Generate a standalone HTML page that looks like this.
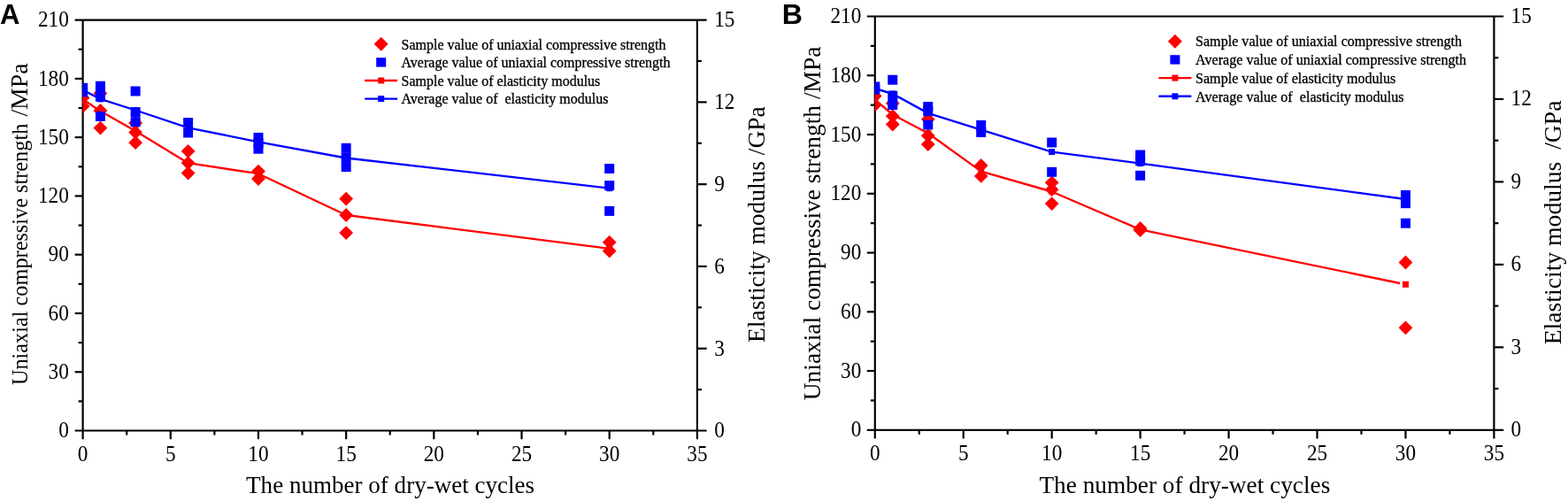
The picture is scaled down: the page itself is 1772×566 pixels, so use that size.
<!DOCTYPE html>
<html><head><meta charset="utf-8"><title>Figure</title>
<style>html,body{margin:0;padding:0;background:#fff;width:1772px;height:566px;overflow:hidden}svg{display:block}</style>
</head><body>
<svg width="1772" height="566" viewBox="0 0 1772 566">
<rect width="100%" height="100%" fill="#fff"/>
<clipPath id="cA"><rect x="93.60" y="14.60" width="694.30" height="471.90"/></clipPath>
<g stroke="#000" stroke-width="2.2" fill="none" stroke-linecap="butt">
<line x1="84.60" y1="22.60" x2="798.70" y2="22.60"/>
<line x1="84.60" y1="486.50" x2="798.70" y2="486.50"/>
<line x1="93.60" y1="22.60" x2="93.60" y2="496.20"/>
<line x1="787.90" y1="22.60" x2="787.90" y2="496.20"/>
</g>
<g stroke="#000" stroke-width="2.2" fill="none">
<line x1="143.19" y1="486.50" x2="143.19" y2="491.50"/>
<line x1="192.79" y1="486.50" x2="192.79" y2="496.20"/>
<line x1="242.38" y1="486.50" x2="242.38" y2="491.50"/>
<line x1="291.97" y1="486.50" x2="291.97" y2="496.20"/>
<line x1="341.56" y1="486.50" x2="341.56" y2="491.50"/>
<line x1="391.16" y1="486.50" x2="391.16" y2="496.20"/>
<line x1="440.75" y1="486.50" x2="440.75" y2="491.50"/>
<line x1="490.34" y1="486.50" x2="490.34" y2="496.20"/>
<line x1="539.94" y1="486.50" x2="539.94" y2="491.50"/>
<line x1="589.53" y1="486.50" x2="589.53" y2="496.20"/>
<line x1="639.12" y1="486.50" x2="639.12" y2="491.50"/>
<line x1="688.71" y1="486.50" x2="688.71" y2="496.20"/>
<line x1="738.31" y1="486.50" x2="738.31" y2="491.50"/>
<line x1="88.60" y1="453.36" x2="93.60" y2="453.36"/>
<line x1="84.60" y1="420.23" x2="93.60" y2="420.23"/>
<line x1="88.60" y1="387.09" x2="93.60" y2="387.09"/>
<line x1="84.60" y1="353.96" x2="93.60" y2="353.96"/>
<line x1="88.60" y1="320.82" x2="93.60" y2="320.82"/>
<line x1="84.60" y1="287.69" x2="93.60" y2="287.69"/>
<line x1="88.60" y1="254.55" x2="93.60" y2="254.55"/>
<line x1="84.60" y1="221.41" x2="93.60" y2="221.41"/>
<line x1="88.60" y1="188.28" x2="93.60" y2="188.28"/>
<line x1="84.60" y1="155.14" x2="93.60" y2="155.14"/>
<line x1="88.60" y1="122.01" x2="93.60" y2="122.01"/>
<line x1="84.60" y1="88.87" x2="93.60" y2="88.87"/>
<line x1="88.60" y1="55.74" x2="93.60" y2="55.74"/>
<line x1="787.90" y1="440.11" x2="792.90" y2="440.11"/>
<line x1="787.90" y1="393.72" x2="798.70" y2="393.72"/>
<line x1="787.90" y1="347.33" x2="792.90" y2="347.33"/>
<line x1="787.90" y1="300.94" x2="798.70" y2="300.94"/>
<line x1="787.90" y1="254.55" x2="792.90" y2="254.55"/>
<line x1="787.90" y1="208.16" x2="798.70" y2="208.16"/>
<line x1="787.90" y1="161.77" x2="792.90" y2="161.77"/>
<line x1="787.90" y1="115.38" x2="798.70" y2="115.38"/>
<line x1="787.90" y1="68.99" x2="792.90" y2="68.99"/>
</g>
<g font-family="'Liberation Serif','Times New Roman',serif" font-size="25" fill="#000">
<text transform="translate(93.60,521.00) scale(0.93,1)" text-anchor="middle">0</text>
<text transform="translate(192.79,521.00) scale(0.93,1)" text-anchor="middle">5</text>
<text transform="translate(291.97,521.00) scale(0.93,1)" text-anchor="middle">10</text>
<text transform="translate(391.16,521.00) scale(0.93,1)" text-anchor="middle">15</text>
<text transform="translate(490.34,521.00) scale(0.93,1)" text-anchor="middle">20</text>
<text transform="translate(589.53,521.00) scale(0.93,1)" text-anchor="middle">25</text>
<text transform="translate(688.71,521.00) scale(0.93,1)" text-anchor="middle">30</text>
<text transform="translate(787.90,521.00) scale(0.93,1)" text-anchor="middle">35</text>
<text transform="translate(77.80,494.30) scale(0.93,1)" text-anchor="end">0</text>
<text transform="translate(77.80,428.03) scale(0.93,1)" text-anchor="end">30</text>
<text transform="translate(77.80,361.76) scale(0.93,1)" text-anchor="end">60</text>
<text transform="translate(77.80,295.49) scale(0.93,1)" text-anchor="end">90</text>
<text transform="translate(77.80,229.21) scale(0.93,1)" text-anchor="end">120</text>
<text transform="translate(77.80,162.94) scale(0.93,1)" text-anchor="end">150</text>
<text transform="translate(77.80,96.67) scale(0.93,1)" text-anchor="end">180</text>
<text transform="translate(77.80,30.40) scale(0.93,1)" text-anchor="end">210</text>
<text transform="translate(807.20,494.30) scale(0.93,1)">0</text>
<text transform="translate(807.20,401.52) scale(0.93,1)">3</text>
<text transform="translate(807.20,308.74) scale(0.93,1)">6</text>
<text transform="translate(807.20,215.96) scale(0.93,1)">9</text>
<text transform="translate(807.20,123.18) scale(0.93,1)">12</text>
<text transform="translate(807.20,30.40) scale(0.93,1)">15</text>
</g>
<text x="278.10" y="557.30" font-family="'Liberation Serif','Times New Roman',serif" font-size="27" textLength="326" lengthAdjust="spacingAndGlyphs">The number of dry-wet cycles</text>
<text transform="translate(31.40,435.10) rotate(-90)" font-family="'Liberation Serif','Times New Roman',serif" font-size="25" textLength="295.4" lengthAdjust="spacingAndGlyphs">Uniaxial compressive strength</text>
<text transform="translate(31.40,131.60) rotate(-90)" font-family="'Liberation Serif','Times New Roman',serif" font-size="26.5" textLength="60.2" lengthAdjust="spacingAndGlyphs">/MPa</text>
<text transform="translate(864.20,386.90) rotate(-90)" font-family="'Liberation Serif','Times New Roman',serif" font-size="27" textLength="266.5" lengthAdjust="spacingAndGlyphs" style="white-space:pre">Elasticity modulus /GPa</text>
<text x="0" y="27" font-family="'Liberation Sans',Arial,sans-serif" font-weight="bold" font-size="31">A</text>
<g clip-path="url(#cA)">
<polyline points="93.60,112.30 113.44,125.50 153.11,148.00 212.62,184.20 291.97,196.20 391.16,243.00 688.71,280.80" fill="none" stroke="#ff0000" stroke-width="2.35" stroke-linejoin="round"/>
<rect x="90.10" y="108.80" width="7" height="7" fill="#ff0000"/>
<rect x="109.94" y="122.00" width="7" height="7" fill="#ff0000"/>
<rect x="149.61" y="144.50" width="7" height="7" fill="#ff0000"/>
<rect x="209.12" y="180.70" width="7" height="7" fill="#ff0000"/>
<rect x="288.47" y="192.70" width="7" height="7" fill="#ff0000"/>
<rect x="387.66" y="239.50" width="7" height="7" fill="#ff0000"/>
<rect x="685.21" y="277.30" width="7" height="7" fill="#ff0000"/>
<polyline points="93.60,101.80 113.44,111.90 153.11,124.50 212.62,144.30 291.97,160.30 391.16,178.50 688.71,212.70" fill="none" stroke="#0000ff" stroke-width="2.35" stroke-linejoin="round"/>
<rect x="90.10" y="98.30" width="7" height="7" fill="#0000ff"/>
<rect x="109.94" y="108.40" width="7" height="7" fill="#0000ff"/>
<rect x="149.61" y="121.00" width="7" height="7" fill="#0000ff"/>
<rect x="209.12" y="140.80" width="7" height="7" fill="#0000ff"/>
<rect x="288.47" y="156.80" width="7" height="7" fill="#0000ff"/>
<rect x="387.66" y="175.00" width="7" height="7" fill="#0000ff"/>
<rect x="685.21" y="209.20" width="7" height="7" fill="#0000ff"/>
<path d="M93.60 102.60L101.50 110.50L93.60 118.40L85.70 110.50Z" fill="#ff0000"/>
<path d="M93.60 112.30L101.50 120.20L93.60 128.10L85.70 120.20Z" fill="#ff0000"/>
<path d="M113.44 97.60L121.34 105.50L113.44 113.40L105.54 105.50Z" fill="#ff0000"/>
<path d="M113.44 117.10L121.34 125.00L113.44 132.90L105.54 125.00Z" fill="#ff0000"/>
<path d="M113.44 136.70L121.34 144.60L113.44 152.50L105.54 144.60Z" fill="#ff0000"/>
<path d="M153.11 131.10L161.01 139.00L153.11 146.90L145.21 139.00Z" fill="#ff0000"/>
<path d="M153.11 141.70L161.01 149.60L153.11 157.50L145.21 149.60Z" fill="#ff0000"/>
<path d="M153.11 153.30L161.01 161.20L153.11 169.10L145.21 161.20Z" fill="#ff0000"/>
<path d="M212.62 162.90L220.52 170.80L212.62 178.70L204.72 170.80Z" fill="#ff0000"/>
<path d="M212.62 176.20L220.52 184.10L212.62 192.00L204.72 184.10Z" fill="#ff0000"/>
<path d="M212.62 187.70L220.52 195.60L212.62 203.50L204.72 195.60Z" fill="#ff0000"/>
<path d="M291.97 185.70L299.87 193.60L291.97 201.50L284.07 193.60Z" fill="#ff0000"/>
<path d="M291.97 194.10L299.87 202.00L291.97 209.90L284.07 202.00Z" fill="#ff0000"/>
<path d="M391.16 216.70L399.06 224.60L391.16 232.50L383.26 224.60Z" fill="#ff0000"/>
<path d="M391.16 235.10L399.06 243.00L391.16 250.90L383.26 243.00Z" fill="#ff0000"/>
<path d="M391.16 255.20L399.06 263.10L391.16 271.00L383.26 263.10Z" fill="#ff0000"/>
<path d="M688.71 265.80L696.61 273.70L688.71 281.60L680.81 273.70Z" fill="#ff0000"/>
<path d="M688.71 275.70L696.61 283.60L688.71 291.50L680.81 283.60Z" fill="#ff0000"/>
<rect x="88.10" y="93.80" width="11" height="11" fill="#0000ff"/>
<rect x="88.10" y="98.50" width="11" height="11" fill="#0000ff"/>
<rect x="107.94" y="91.70" width="11" height="11" fill="#0000ff"/>
<rect x="107.94" y="97.70" width="11" height="11" fill="#0000ff"/>
<rect x="107.94" y="103.70" width="11" height="11" fill="#0000ff"/>
<rect x="107.94" y="126.00" width="11" height="11" fill="#0000ff"/>
<rect x="147.61" y="97.50" width="11" height="11" fill="#0000ff"/>
<rect x="147.61" y="121.10" width="11" height="11" fill="#0000ff"/>
<rect x="147.61" y="132.20" width="11" height="11" fill="#0000ff"/>
<rect x="207.12" y="133.10" width="11" height="11" fill="#0000ff"/>
<rect x="207.12" y="144.50" width="11" height="11" fill="#0000ff"/>
<rect x="286.47" y="149.90" width="11" height="11" fill="#0000ff"/>
<rect x="286.47" y="156.00" width="11" height="11" fill="#0000ff"/>
<rect x="286.47" y="162.70" width="11" height="11" fill="#0000ff"/>
<rect x="385.66" y="161.80" width="11" height="11" fill="#0000ff"/>
<rect x="385.66" y="172.50" width="11" height="11" fill="#0000ff"/>
<rect x="385.66" y="183.10" width="11" height="11" fill="#0000ff"/>
<rect x="683.21" y="185.00" width="11" height="11" fill="#0000ff"/>
<rect x="683.21" y="204.10" width="11" height="11" fill="#0000ff"/>
<rect x="683.21" y="232.90" width="11" height="11" fill="#0000ff"/>
</g>
<path d="M430.70 41.80L438.70 49.80L430.70 57.80L422.70 49.80Z" fill="#ff0000"/>
<rect x="425.20" y="65.20" width="11" height="10.4" fill="#0000ff"/>
<line x1="412.20" y1="91.00" x2="449.20" y2="91.00" stroke="#ff0000" stroke-width="2.4"/>
<rect x="427.20" y="87.50" width="7" height="7" fill="#ff0000"/>
<line x1="412.20" y1="111.60" x2="449.20" y2="111.60" stroke="#0000ff" stroke-width="2.4"/>
<rect x="427.20" y="108.10" width="7" height="7" fill="#0000ff"/>
<g font-family="'Liberation Serif','Times New Roman',serif" font-size="16" fill="#000" stroke="#000" stroke-width="0.3">
<text x="453.50" y="55.50">Sample value of uniaxial compressive strength</text>
<text x="453.50" y="76.10">Average value of uniaxial compressive strength</text>
<text x="453.50" y="96.70">Sample value of elasticity modulus</text>
<text x="453.50" y="117.30">Average value of &#160;elasticity modulus</text>
</g>
<clipPath id="cB"><rect x="988.80" y="10.50" width="699.60" height="475.30"/></clipPath>
<g stroke="#000" stroke-width="2.2" fill="none" stroke-linecap="butt">
<line x1="979.80" y1="18.50" x2="1699.20" y2="18.50"/>
<line x1="979.80" y1="485.80" x2="1699.20" y2="485.80"/>
<line x1="988.80" y1="18.50" x2="988.80" y2="495.50"/>
<line x1="1688.40" y1="18.50" x2="1688.40" y2="495.50"/>
</g>
<g stroke="#000" stroke-width="2.2" fill="none">
<line x1="1038.77" y1="485.80" x2="1038.77" y2="490.80"/>
<line x1="1088.74" y1="485.80" x2="1088.74" y2="495.50"/>
<line x1="1138.71" y1="485.80" x2="1138.71" y2="490.80"/>
<line x1="1188.69" y1="485.80" x2="1188.69" y2="495.50"/>
<line x1="1238.66" y1="485.80" x2="1238.66" y2="490.80"/>
<line x1="1288.63" y1="485.80" x2="1288.63" y2="495.50"/>
<line x1="1338.60" y1="485.80" x2="1338.60" y2="490.80"/>
<line x1="1388.57" y1="485.80" x2="1388.57" y2="495.50"/>
<line x1="1438.54" y1="485.80" x2="1438.54" y2="490.80"/>
<line x1="1488.51" y1="485.80" x2="1488.51" y2="495.50"/>
<line x1="1538.49" y1="485.80" x2="1538.49" y2="490.80"/>
<line x1="1588.46" y1="485.80" x2="1588.46" y2="495.50"/>
<line x1="1638.43" y1="485.80" x2="1638.43" y2="490.80"/>
<line x1="983.80" y1="452.42" x2="988.80" y2="452.42"/>
<line x1="979.80" y1="419.04" x2="988.80" y2="419.04"/>
<line x1="983.80" y1="385.66" x2="988.80" y2="385.66"/>
<line x1="979.80" y1="352.29" x2="988.80" y2="352.29"/>
<line x1="983.80" y1="318.91" x2="988.80" y2="318.91"/>
<line x1="979.80" y1="285.53" x2="988.80" y2="285.53"/>
<line x1="983.80" y1="252.15" x2="988.80" y2="252.15"/>
<line x1="979.80" y1="218.77" x2="988.80" y2="218.77"/>
<line x1="983.80" y1="185.39" x2="988.80" y2="185.39"/>
<line x1="979.80" y1="152.01" x2="988.80" y2="152.01"/>
<line x1="983.80" y1="118.64" x2="988.80" y2="118.64"/>
<line x1="979.80" y1="85.26" x2="988.80" y2="85.26"/>
<line x1="983.80" y1="51.88" x2="988.80" y2="51.88"/>
<line x1="1688.40" y1="439.07" x2="1693.40" y2="439.07"/>
<line x1="1688.40" y1="392.34" x2="1699.20" y2="392.34"/>
<line x1="1688.40" y1="345.61" x2="1693.40" y2="345.61"/>
<line x1="1688.40" y1="298.88" x2="1699.20" y2="298.88"/>
<line x1="1688.40" y1="252.15" x2="1693.40" y2="252.15"/>
<line x1="1688.40" y1="205.42" x2="1699.20" y2="205.42"/>
<line x1="1688.40" y1="158.69" x2="1693.40" y2="158.69"/>
<line x1="1688.40" y1="111.96" x2="1699.20" y2="111.96"/>
<line x1="1688.40" y1="65.23" x2="1693.40" y2="65.23"/>
</g>
<g font-family="'Liberation Serif','Times New Roman',serif" font-size="25" fill="#000">
<text transform="translate(988.80,520.30) scale(0.93,1)" text-anchor="middle">0</text>
<text transform="translate(1088.74,520.30) scale(0.93,1)" text-anchor="middle">5</text>
<text transform="translate(1188.69,520.30) scale(0.93,1)" text-anchor="middle">10</text>
<text transform="translate(1288.63,520.30) scale(0.93,1)" text-anchor="middle">15</text>
<text transform="translate(1388.57,520.30) scale(0.93,1)" text-anchor="middle">20</text>
<text transform="translate(1488.51,520.30) scale(0.93,1)" text-anchor="middle">25</text>
<text transform="translate(1588.46,520.30) scale(0.93,1)" text-anchor="middle">30</text>
<text transform="translate(1688.40,520.30) scale(0.93,1)" text-anchor="middle">35</text>
<text transform="translate(973.30,493.30) scale(0.93,1)" text-anchor="end">0</text>
<text transform="translate(973.30,426.54) scale(0.93,1)" text-anchor="end">30</text>
<text transform="translate(973.30,359.79) scale(0.93,1)" text-anchor="end">60</text>
<text transform="translate(973.30,293.03) scale(0.93,1)" text-anchor="end">90</text>
<text transform="translate(973.30,226.27) scale(0.93,1)" text-anchor="end">120</text>
<text transform="translate(973.30,159.51) scale(0.93,1)" text-anchor="end">150</text>
<text transform="translate(973.30,92.76) scale(0.93,1)" text-anchor="end">180</text>
<text transform="translate(973.30,26.00) scale(0.93,1)" text-anchor="end">210</text>
<text transform="translate(1707.60,493.30) scale(0.93,1)">0</text>
<text transform="translate(1707.60,399.84) scale(0.93,1)">3</text>
<text transform="translate(1707.60,306.38) scale(0.93,1)">6</text>
<text transform="translate(1707.60,212.92) scale(0.93,1)">9</text>
<text transform="translate(1707.60,119.46) scale(0.93,1)">12</text>
<text transform="translate(1707.60,26.00) scale(0.93,1)">15</text>
</g>
<text x="1174.40" y="557.30" font-family="'Liberation Serif','Times New Roman',serif" font-size="27" textLength="328.9" lengthAdjust="spacingAndGlyphs">The number of dry-wet cycles</text>
<text transform="translate(926.50,452.20) rotate(-90)" font-family="'Liberation Serif','Times New Roman',serif" font-size="27.4" textLength="399.5" lengthAdjust="spacingAndGlyphs">Uniaxial compressive strength /MPa</text>
<text transform="translate(1764.00,389.30) rotate(-90)" font-family="'Liberation Serif','Times New Roman',serif" font-size="27" textLength="275.8" lengthAdjust="spacingAndGlyphs" style="white-space:pre">Elasticity modulus &#160;/GPa</text>
<text x="883.7" y="27.2" font-family="'Liberation Sans',Arial,sans-serif" font-weight="bold" font-size="32.2">B</text>
<g clip-path="url(#cB)">
<polyline points="988.80,112.70 1008.79,129.50 1048.77,150.50 1108.73,193.60 1188.69,216.50 1288.63,259.30 1582.09,319.98" fill="none" stroke="#ff0000" stroke-width="2.35" stroke-linejoin="round"/>
<rect x="985.30" y="109.20" width="7" height="7" fill="#ff0000"/>
<rect x="1005.29" y="126.00" width="7" height="7" fill="#ff0000"/>
<rect x="1045.27" y="147.00" width="7" height="7" fill="#ff0000"/>
<rect x="1105.23" y="190.10" width="7" height="7" fill="#ff0000"/>
<rect x="1185.19" y="213.00" width="7" height="7" fill="#ff0000"/>
<rect x="1285.13" y="255.80" width="7" height="7" fill="#ff0000"/>
<rect x="1584.96" y="317.80" width="7" height="7" fill="#ff0000"/>
<polyline points="988.80,100.00 1008.79,106.00 1048.77,127.90 1108.73,146.70 1188.69,171.60 1288.63,184.60 1588.46,225.00" fill="none" stroke="#0000ff" stroke-width="2.35" stroke-linejoin="round"/>
<rect x="985.30" y="96.50" width="7" height="7" fill="#0000ff"/>
<rect x="1005.29" y="102.50" width="7" height="7" fill="#0000ff"/>
<rect x="1045.27" y="124.40" width="7" height="7" fill="#0000ff"/>
<rect x="1105.23" y="143.20" width="7" height="7" fill="#0000ff"/>
<rect x="1185.19" y="168.10" width="7" height="7" fill="#0000ff"/>
<rect x="1285.13" y="181.10" width="7" height="7" fill="#0000ff"/>
<rect x="1584.96" y="221.50" width="7" height="7" fill="#0000ff"/>
<path d="M988.80 100.70L996.70 108.60L988.80 116.50L980.90 108.60Z" fill="#ff0000"/>
<path d="M988.80 110.60L996.70 118.50L988.80 126.40L980.90 118.50Z" fill="#ff0000"/>
<path d="M1008.79 108.80L1016.69 116.70L1008.79 124.60L1000.89 116.70Z" fill="#ff0000"/>
<path d="M1008.79 123.30L1016.69 131.20L1008.79 139.10L1000.89 131.20Z" fill="#ff0000"/>
<path d="M1008.79 132.60L1016.69 140.50L1008.79 148.40L1000.89 140.50Z" fill="#ff0000"/>
<path d="M1048.77 126.90L1056.67 134.80L1048.77 142.70L1040.87 134.80Z" fill="#ff0000"/>
<path d="M1048.77 145.30L1056.67 153.20L1048.77 161.10L1040.87 153.20Z" fill="#ff0000"/>
<path d="M1048.77 155.20L1056.67 163.10L1048.77 171.00L1040.87 163.10Z" fill="#ff0000"/>
<path d="M1108.73 179.10L1116.63 187.00L1108.73 194.90L1100.83 187.00Z" fill="#ff0000"/>
<path d="M1108.73 191.00L1116.63 198.90L1108.73 206.80L1100.83 198.90Z" fill="#ff0000"/>
<path d="M1188.69 198.40L1196.59 206.30L1188.69 214.20L1180.79 206.30Z" fill="#ff0000"/>
<path d="M1188.69 206.30L1196.59 214.20L1188.69 222.10L1180.79 214.20Z" fill="#ff0000"/>
<path d="M1188.69 222.20L1196.59 230.10L1188.69 238.00L1180.79 230.10Z" fill="#ff0000"/>
<path d="M1288.63 250.10L1296.53 258.00L1288.63 265.90L1280.73 258.00Z" fill="#ff0000"/>
<path d="M1288.63 252.10L1296.53 260.00L1288.63 267.90L1280.73 260.00Z" fill="#ff0000"/>
<path d="M1588.46 288.60L1596.36 296.50L1588.46 304.40L1580.56 296.50Z" fill="#ff0000"/>
<path d="M1588.46 362.40L1596.36 370.30L1588.46 378.20L1580.56 370.30Z" fill="#ff0000"/>
<rect x="983.30" y="92.40" width="11" height="11" fill="#0000ff"/>
<rect x="983.30" y="95.60" width="11" height="11" fill="#0000ff"/>
<rect x="1003.29" y="84.70" width="11" height="11" fill="#0000ff"/>
<rect x="1003.29" y="102.70" width="11" height="11" fill="#0000ff"/>
<rect x="1003.29" y="113.00" width="11" height="11" fill="#0000ff"/>
<rect x="1043.27" y="115.00" width="11" height="11" fill="#0000ff"/>
<rect x="1043.27" y="120.20" width="11" height="11" fill="#0000ff"/>
<rect x="1043.27" y="135.50" width="11" height="11" fill="#0000ff"/>
<rect x="1103.23" y="135.90" width="11" height="11" fill="#0000ff"/>
<rect x="1103.23" y="143.90" width="11" height="11" fill="#0000ff"/>
<rect x="1183.19" y="155.50" width="11" height="11" fill="#0000ff"/>
<rect x="1183.19" y="188.80" width="11" height="11" fill="#0000ff"/>
<rect x="1283.13" y="169.50" width="11" height="11" fill="#0000ff"/>
<rect x="1283.13" y="176.20" width="11" height="11" fill="#0000ff"/>
<rect x="1283.13" y="192.80" width="11" height="11" fill="#0000ff"/>
<rect x="1582.96" y="214.90" width="11" height="11" fill="#0000ff"/>
<rect x="1582.96" y="224.20" width="11" height="11" fill="#0000ff"/>
<rect x="1582.96" y="246.70" width="11" height="11" fill="#0000ff"/>
</g>
<path d="M1327.90 38.70L1335.90 46.70L1327.90 54.70L1319.90 46.70Z" fill="#ff0000"/>
<rect x="1322.40" y="62.20" width="11" height="10.4" fill="#0000ff"/>
<line x1="1309.40" y1="88.10" x2="1346.40" y2="88.10" stroke="#ff0000" stroke-width="2.4"/>
<rect x="1324.40" y="84.60" width="7" height="7" fill="#ff0000"/>
<line x1="1309.40" y1="108.80" x2="1346.40" y2="108.80" stroke="#0000ff" stroke-width="2.4"/>
<rect x="1324.40" y="105.30" width="7" height="7" fill="#0000ff"/>
<g font-family="'Liberation Serif','Times New Roman',serif" font-size="16.13" fill="#000" stroke="#000" stroke-width="0.3">
<text x="1351.00" y="52.40">Sample value of uniaxial compressive strength</text>
<text x="1351.00" y="73.10">Average value of uniaxial compressive strength</text>
<text x="1351.00" y="93.80">Sample value of elasticity modulus</text>
<text x="1351.00" y="114.50">Average value of &#160;elasticity modulus</text>
</g>
</svg>
</body></html>
